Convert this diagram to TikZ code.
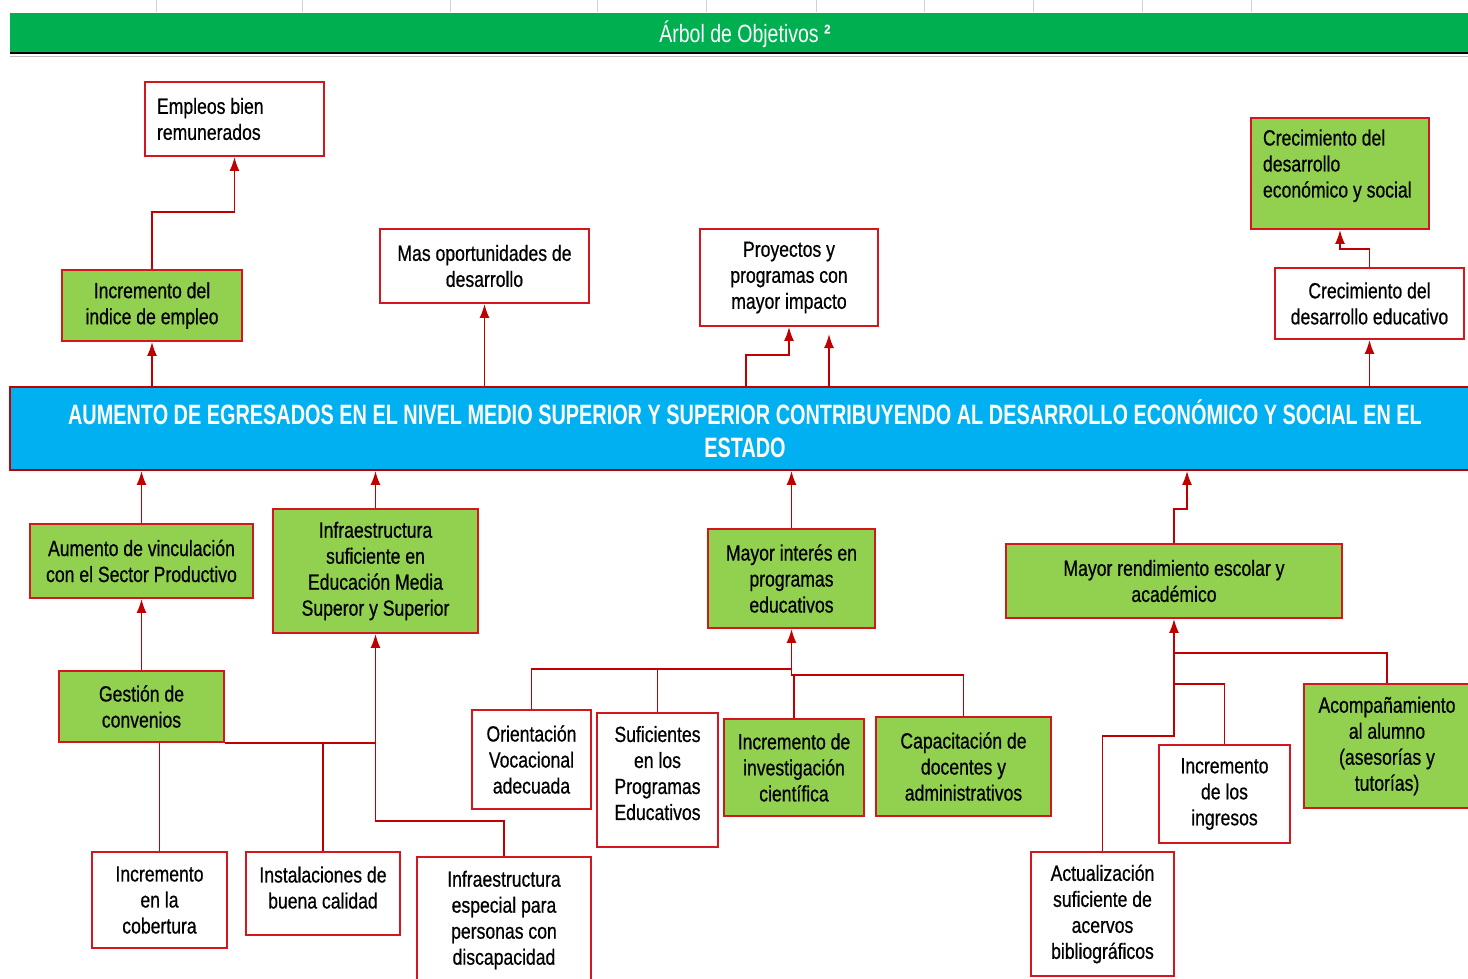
\documentclass[tikz,border=0pt]{standalone}
\usepackage{fontspec}
\setmainfont{Liberation Sans}[FakeStretch=0.8, FakeBold=0.6]
\newfontfamily\bandfont{Liberation Sans}[FakeStretch=0.71]
\newfontfamily\titlefont{Liberation Sans}[FakeStretch=0.78]
\usetikzlibrary{arrows.meta}

\definecolor{hdrgreen}{RGB}{0,176,80}
\definecolor{boxgreen}{RGB}{146,208,80}
\definecolor{bandblue}{RGB}{0,176,240}
\definecolor{linered}{RGB}{192,0,0}
\definecolor{boxred}{RGB}{212,22,30}

\tikzset{
  wbox/.style={draw=boxred, line width=1.8pt, fill=white, align=center,
    inner sep=0pt, font=\fontsize{22}{26}\selectfont},
  gbox/.style={wbox, fill=boxgreen},
  link/.style={draw=linered, line width=1.8pt},
  arr/.style={link, -{Latex[length=14pt,width=10pt]}},
}

\begin{document}
\begin{tikzpicture}[x=1pt,y=-1pt]
\useasboundingbox (0,0) rectangle (1468,978);

% header
\foreach \x in {156,302,450,597,706,816,924,1033,1142,1251}
  \draw [gray!35, line width=0.8pt](\x,0) -- (\x,12);
\fill [hdrgreen](10,13) rectangle (1468,53);
\draw [black, line width=2pt](10,53) -- (1468,53);
\draw [gray!50, line width=1pt](10,56) -- (1468,56);
\node [text=white, font=\titlefont\fontsize{25}{28}\selectfont] (title) at (745,34) {Árbol de Objetivos \textbf{²}};

% central band
\node [draw=linered, line width=1.8pt, fill=bandblue, text=white, align=center,
  minimum width=1470pt, minimum height=83pt, inner sep=0pt,
  font=\bandfont\bfseries\fontsize{28}{33}\selectfont] (band) at (745,428.5)
  {AUMENTO DE EGRESADOS EN EL NIVEL MEDIO SUPERIOR Y SUPERIOR CONTRIBUYENDO AL DESARROLLO ECONÓMICO Y SOCIAL EN EL\\ESTADO};

% ends
\node [wbox, minimum width=179pt, minimum height=74pt, text width=155pt, align=flush left] (emp) at (234.5,119) {Empleos bien\\remunerados};
\node [gbox, minimum width=180pt, minimum height=71pt] (ind) at (152,305.5) {Incremento del\\indice de empleo};
\node [wbox, minimum width=209pt, minimum height=74pt] (mas) at (484.5,266) {Mas oportunidades de\\desarrollo};
\node [wbox, minimum width=178pt, minimum height=97pt] (pro) at (789,277.5) {Proyectos y\\programas con\\mayor impacto};
\node [gbox, minimum width=178pt, minimum height=111pt, text width=154pt, align=flush left] (cre) at (1340,173.5) {Crecimiento del\\desarrollo\\económico y social\\[-6pt]~};
\node [wbox, minimum width=189pt, minimum height=71pt] (edu) at (1369.5,303.5) {Crecimiento del\\desarrollo educativo};
\coordinate (pfree) at (829,334);

% means
\node [gbox, minimum width=223pt, minimum height=74pt] (vin) at (141.5,561) {Aumento de vinculación\\con el  Sector Productivo};
\node [gbox, minimum width=205pt, minimum height=124pt] (inf) at (375.5,571) {Infraestructura\\suficiente en\\Educación Media\\Superor y  Superior};
\node [gbox, minimum width=167pt, minimum height=99pt] (may) at (791.5,578.5) {Mayor interés en\\programas\\educativos};
\node [gbox, minimum width=336pt, minimum height=74pt] (ren) at (1174,581) {Mayor rendimiento escolar y\\académico};
\node [gbox, minimum width=165pt, minimum height=71pt] (ges) at (141.5,706.5) {Gestión de\\convenios};
\node [wbox, minimum width=119pt, minimum height=99pt] (ori) at (531.5,759.5) {Orientación\\Vocacional\\adecuada};
\node [wbox, minimum width=121pt, minimum height=134pt] (suf) at (657.5,780) {Suficientes\\en los\\Programas\\Educativos\\[-12pt]~};
\node [gbox, minimum width=140pt, minimum height=97pt] (inv) at (794,767.5) {Incremento de\\investigación\\científica};
\node [gbox, minimum width=175pt, minimum height=99pt] (cap) at (963.5,766.5) {Capacitación de\\docentes y\\administrativos};
\node [gbox, minimum width=166pt, minimum height=124pt] (aco) at (1387,746) {Acompañamiento\\al alumno\\(asesorías y\\tutorías)};
\node [wbox, minimum width=131pt, minimum height=98pt] (ing) at (1224.5,794) {Incremento\\de los\\ingresos};
\node [wbox, minimum width=135pt, minimum height=96pt] (cob) at (159.5,900) {Incremento\\en la\\cobertura};
\node [wbox, minimum width=154pt, minimum height=83pt] (ins) at (323,893.5) {Instalaciones de\\buena calidad\\[-14pt]~};
\node [wbox, minimum width=174pt, minimum height=126pt] (esp) at (504,920) {Infraestructura\\especial para\\personas con\\discapacidad};
\node [wbox, minimum width=143pt, minimum height=124pt] (act) at (1102.5,914) {Actualización\\suficiente de\\acervos\\bibliográficos};

% upper links
\draw [arr](band.north -| ind) -- (ind.south);
\draw [arr](ind.north) -- ++(0,-57) -| (emp.south);
\draw [arr](band.north -| mas) -- (mas.south);
\draw [arr](band.north -| 746,0) -- ++(0,-31) -| (pro.south);
\draw [arr](band.north -| pfree) -- (pfree);
\draw [arr](band.north -| edu) -- (edu.south);
\draw [arr](edu.north) -- ++(0,-18) -| (cre.south);

% lower links
\draw [arr](vin.north) -- (vin.north |- band.south);
\draw [arr](inf.north) -- (inf.north |- band.south);
\draw [arr](may.north) -- (may.north |- band.south);
\draw [arr](ren.north) -- ++(0,-34) -| ([xshift=13pt]ren.north |- band.south);
\draw [arr](ges.north) -- (vin.south);

\coordinate (jinf) at (inf.south |- ges.south);
\draw [link](cob.north) -- (cob.north |- ges.south);
\draw [link](ges.south east) -- (jinf);
\draw [link](ins.north) -- (ins.north |- ges.south);
\draw [link](jinf) -- ++(0,78) -| (esp.north);
\draw [arr](jinf) -- (inf.south);

\coordinate (jmay) at ([yshift=-40pt]may.south);
\coordinate (jcap) at ([yshift=-6pt]jmay);
\draw [link](ori.north) |- (jmay);
\draw [link](suf.north) -- (suf.north |- jmay);
\draw [link](jmay) -- (jcap) -| (cap.north);
\draw [link](inv.north) -- (inv.north |- jcap);
\draw [arr](jmay) -- (may.south);

\coordinate (jren) at ([yshift=-34pt]ren.south);
\draw [link](jren) -| (aco.north);
\draw [link](jren) -- ++(0,31) -| (ing.north);
\draw [link](jren) -- ++(0,83) -| (act.north);
\draw [arr](jren) -- (ren.south);
\end{tikzpicture}
\end{document}
